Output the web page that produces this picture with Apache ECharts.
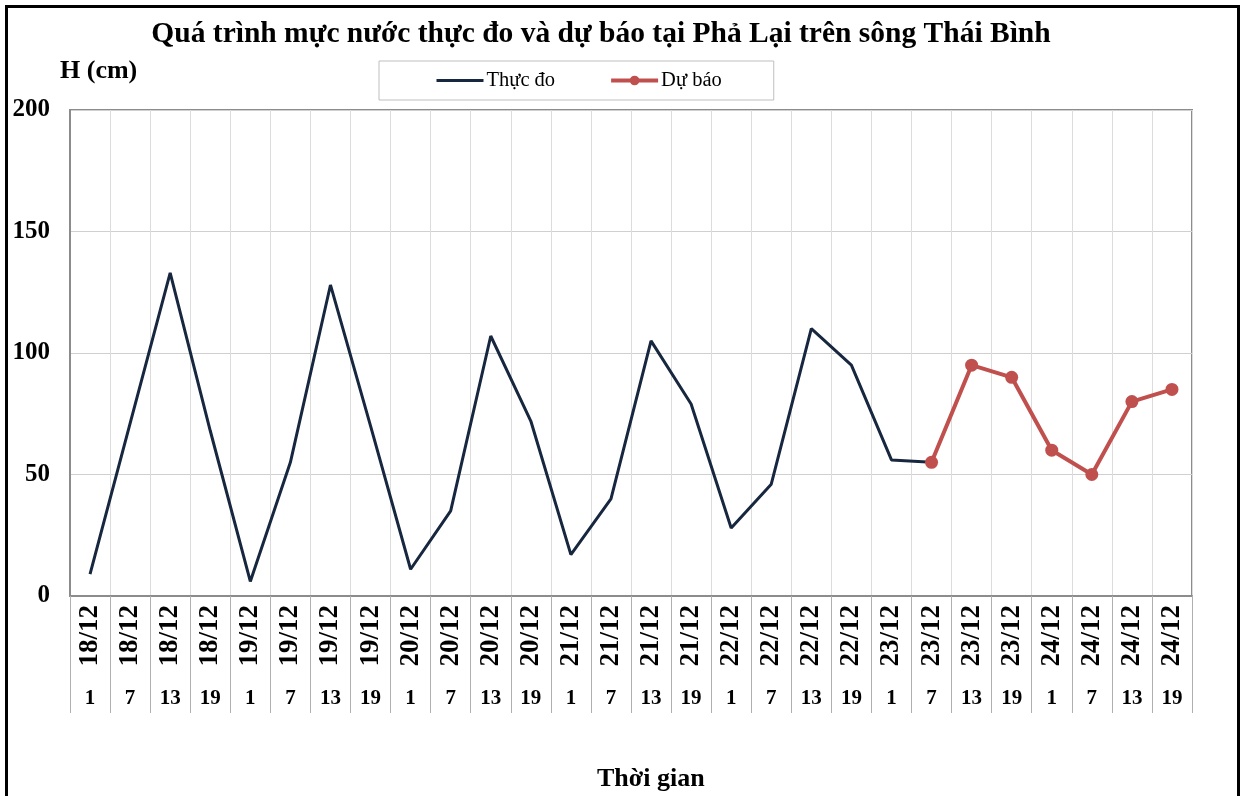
<!DOCTYPE html>
<html>
<head>
<meta charset="utf-8">
<script src="https://cdn.jsdelivr.net/npm/echarts@6/dist/echarts.min.js"></script>
<style>
html,body{margin:0;padding:0;background:#fff;}
#chart{width:1244px;height:796px;}
</style>
</head>
<body>
<div id="chart"></div>
<script>
var dates = ['18/12','18/12','18/12','18/12','19/12','19/12','19/12','19/12','20/12','20/12','20/12','20/12','21/12','21/12','21/12','21/12','22/12','22/12','22/12','22/12','23/12','23/12','23/12','23/12','24/12','24/12','24/12','24/12'];
var hours = ['1','7','13','19','1','7','13','19','1','7','13','19','1','7','13','19','1','7','13','19','1','7','13','19','1','7','13','19'];
var actual = [9,71,133,68,6,55,128,70,11,35,107,72,17,40,105,79,28,46,110,95,56,55,null,null,null,null,null,null];
var forecast = [null,null,null,null,null,null,null,null,null,null,null,null,null,null,null,null,null,null,null,null,null,55,95,90,60,50,80,85];
var yTicks = {min:0, max:200, interval:50};

var FONT = '"Liberation Serif", "Times New Roman", serif';
var chart = echarts.init(document.getElementById('chart'));
chart.setOption({
  animation: false,
  backgroundColor: '#fff',
  title: {
    text: 'Quá trình mực nước thực đo và dự báo tại Phả Lại trên sông Thái Bình',
    left: 596, top: 14, textAlign: 'center',
    textStyle: {fontFamily: FONT, fontWeight: 'bold', fontSize: 29.5, color: '#000'}
  },
  legend: {
    left: 379, top: 61,
    padding: [9, 52, 9, 56],
    itemGap: 54,
    itemWidth: 47, itemHeight: 12,
    backgroundColor: '#fff',
    borderColor: '#bfbfbf', borderWidth: 1,
    textStyle: {fontFamily: FONT, fontSize: 20.5, color: '#000', padding: [0,0,0,-2]},
    data: [
      {name: 'Thực đo', itemStyle: {opacity: 0}, lineStyle: {width: 3, color: '#17273f'}},
      {name: 'Dự báo', lineStyle: {width: 4, color: '#c0504d'}}
    ]
  },
  grid: {
    left: 70, right: 52, top: 110, bottom: 200,
    show: true, borderColor: '#8c8c8c', borderWidth: 2, backgroundColor: '#fff'
  },
  xAxis: [{
    type: 'category', data: dates, boundaryGap: true,
    axisLine: {show: true, lineStyle: {color: '#8c8c8c', width: 2}},
    axisTick: {show: true, length: 117, alignWithLabel: false, lineStyle: {color: '#b0b0b0', width: 1}},
    splitLine: {show: true, lineStyle: {color: '#dcdcdc', width: 1}},
    axisLabel: {interval: 0, rotate: 90, margin: 9, fontFamily: FONT, fontWeight: 'bold', fontSize: 27, color: '#000'}
  }, {
    type: 'category', data: hours, boundaryGap: true, position: 'bottom',
    axisLine: {show: false}, axisTick: {show: false}, splitLine: {show: false},
    axisLabel: {interval: 0, margin: 92, fontFamily: FONT, fontWeight: 'bold', fontSize: 21, color: '#000'}
  }],
  yAxis: {
    type: 'value', min: yTicks.min, max: yTicks.max, interval: yTicks.interval,
    axisLine: {show: true, lineStyle: {color: '#8c8c8c', width: 2}},
    axisTick: {show: false},
    splitLine: {show: true, lineStyle: {color: '#d0d0d0', width: 1}},
    axisLabel: {margin: 20, fontFamily: FONT, fontWeight: 'bold', fontSize: 25, color: '#000'}
  },
  series: [{
    name: 'Thực đo', type: 'line', data: actual, xAxisIndex: 0,
    symbol: 'none', showSymbol: false,
    lineStyle: {color: '#17273f', width: 3}, itemStyle: {color: '#17273f'}
  }, {
    name: 'Dự báo', type: 'line', data: forecast, xAxisIndex: 0,
    symbol: 'circle', symbolSize: 13,
    lineStyle: {color: '#c0504d', width: 4}, itemStyle: {color: '#c0504d'}
  }],
  graphic: [
    {type: 'rect', left: 4, top: 4, shape: {width: 1232, height: 800},
     style: {fill: 'none', stroke: '#000', lineWidth: 3}, silent: true},
    {type: 'text', left: 60, top: 58,
     style: {text: 'H (cm)', font: 'bold 26px ' + FONT, fill: '#000'}},
    {type: 'text', left: 597, top: 766,
     style: {text: 'Thời gian', font: 'bold 26px ' + FONT, fill: '#000'}}
  ]
});
</script>
</body>
</html>
